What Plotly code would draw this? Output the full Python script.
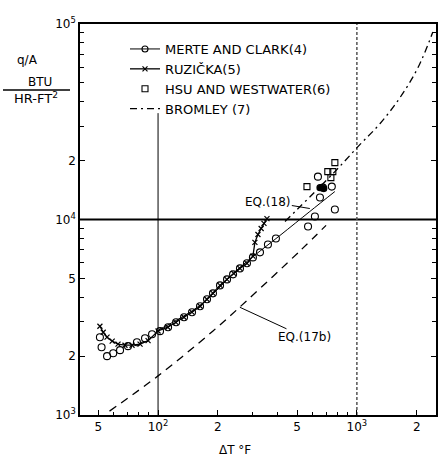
import math
import plotly.graph_objects as go

# ---------------- data ----------------
# Merte and Clark (open circles)
dt_mc = [51, 52, 55.4, 59.5, 64.4, 70.6, 78.3, 86, 93.3, 102.3, 112.3, 123.2, 135.1, 148.2,
         162.6, 176.3, 188.9, 205, 222.3, 238.4, 258.2, 280, 300, 325.6, 357, 391.6,
         568, 615, 652, 675, 748, 775, 637]
q_mc = [2500, 2220, 2000, 2070, 2146, 2250, 2357, 2470, 2587, 2685, 2812, 2979, 3162, 3356,
        3600, 3908, 4190, 4603, 4940, 5240, 5623, 5970, 6400, 6790, 7450, 8000,
        9210, 10360, 12950, 14550, 14730, 11250, 16560]

# Ruzicka (crosses)
dt_rz = [51, 53, 55.4, 58.8, 62.9, 68.2, 74, 81.2, 89.1, 100, 112, 123, 135, 148, 163, 176,
         189, 205, 222, 240, 258, 280, 300, 307, 318, 330, 341, 353]
q_rz = [2845, 2650, 2500, 2388, 2303, 2275, 2275, 2303, 2400, 2690, 2812, 2979, 3162, 3356,
        3600, 3908, 4190, 4603, 4940, 5300, 5623, 5970, 6500, 7640, 8380, 8990, 9550, 10100]

# Hsu and Westwater (open squares, filled dots)
dt_hw = [561, 714, 757, 740, 775, 652, 682]
q_hw = [14730, 17570, 17570, 16370, 19540, 14550, 14390]
sym_hw = ["square-open"] * 5 + ["circle"] * 2

# Bromley (7), dash-dot
dt_br = [435, 775, 1035, 1306, 1644, 2027, 2410]
q_br = [9770, 17570, 24150, 30900, 41880, 59700, 91000]

# EQ.(18), solid thin line
dt_18 = [102.3, 162.6, 258.2, 410, 580, 775]
q_18 = [2748, 3640, 5690, 8280, 10990, 13900]

# EQ.(17b), dashed line
dt_17b = [57, 100, 189, 283, 518, 700]
q_17b = [1047, 1585, 2692, 3890, 6918, 9333]

# reference lines of the chart
x_lo, x_hi = 40.5, 2500
q_lo, q_hi = 1000, 100000
v1_x, v1_top = 100, 35000
v2_x = 1000
h_q = 10000

# ticks
x_tickvals = [50, 100, 200, 500, 1000, 2000]
x_ticktext = ["5", "10<sup>2</sup>", "2", "5", "10<sup>3</sup>", "2"]
x_minor = [50, 60, 70, 80, 90, 200, 300, 400, 500, 600, 700, 800, 900, 2000]
y_tickvals = [1000, 2000, 5000, 10000, 20000, 100000]
y_ticktext = ["10<sup>3</sup>", "2", "5", "10<sup>4</sup>", "2", "10<sup>5</sup>"]
y_minor = [2000, 3000, 4000, 5000, 6000, 7000, 8000, 9000,
           20000, 30000, 40000, 50000, 60000, 70000, 80000, 90000]

FONT = "DejaVu Sans"
L, R, T, B = 80, 3, 24, 48
W, H = 439, 463


def px(xp):
    return (xp - L) / (W - L - R)


def py(yp):
    return 1 - (yp - T) / (H - T - B)


fig = go.Figure()

# reference lines
fig.add_trace(go.Scatter(x=[x_lo, x_hi], y=[h_q, h_q], mode="lines",
                         line=dict(color="black", width=2), showlegend=False, hoverinfo="skip"))
fig.add_trace(go.Scatter(x=[v1_x, v1_x], y=[q_lo, v1_top], mode="lines",
                         line=dict(color="black", width=1), showlegend=False, hoverinfo="skip"))
fig.add_trace(go.Scatter(x=[v2_x, v2_x], y=[q_lo, q_hi], mode="lines",
                         line=dict(color="#555555", width=1.5, dash="3px,2px"),
                         showlegend=False, hoverinfo="skip"))

# curves
fig.add_trace(go.Scatter(x=dt_17b, y=q_17b, mode="lines", line=dict(color="black", width=1.3, dash="8px,6px"),
                         line_shape="spline", showlegend=False))
fig.add_trace(go.Scatter(x=dt_18, y=q_18, mode="lines", line=dict(color="black", width=1),
                         line_shape="spline", showlegend=False))
fig.add_trace(go.Scatter(x=dt_br, y=q_br, mode="lines", line=dict(color="black", width=1.3, dash="7px,4px,2px,4px"),
                         line_shape="spline", name="BROMLEY (7)", legendrank=4))

# data
fig.add_trace(go.Scatter(x=dt_rz, y=q_rz, mode="lines+markers", line=dict(color="black", width=1.3),
                         marker=dict(symbol="x-thin", size=5, line=dict(color="black", width=1.2)),
                         name="RUZIČKA(5)", legendrank=2))
fig.add_trace(go.Scatter(x=dt_mc, y=q_mc, mode="markers",
                         marker=dict(symbol="circle-open", size=7, color="black", line=dict(width=1.1)),
                         showlegend=False))
fig.add_trace(go.Scatter(x=[None], y=[None], mode="lines+markers", line=dict(color="black", width=1),
                         marker=dict(symbol="circle-open", size=6, color="black", line=dict(width=1.1)),
                         name="MERTE AND CLARK(4)", legendrank=1))
fig.add_trace(go.Scatter(x=dt_hw, y=q_hw, mode="markers",
                         marker=dict(symbol=sym_hw, size=6, color="black", line=dict(width=1.1, color="black")),
                         name="HSU AND WESTWATER(6)", legendrank=3))

fig.update_layout(
    width=W, height=H, autosize=False,
    margin=dict(l=L, r=R, t=T, b=B, autoexpand=False),
    paper_bgcolor="white", plot_bgcolor="white",
    font=dict(family=FONT, size=12, color="black"),
    legend=dict(x=px(125), y=py(34), xanchor="left", yanchor="top", bgcolor="rgba(0,0,0,0)",
                font=dict(family=FONT, size=13), tracegroupgap=0, itemwidth=30),
)
fig.update_xaxes(type="log", range=[math.log10(x_lo), math.log10(x_hi)], automargin=False,
                 showgrid=False, zeroline=False, showline=True, linecolor="black", linewidth=2,
                 mirror=True, ticks="inside", ticklen=5, tickcolor="black",
                 tickmode="array", tickvals=x_tickvals, ticktext=x_ticktext,
                 minor=dict(ticks="inside", ticklen=3, tickcolor="black", tickvals=x_minor, showgrid=False),
                 tickfont=dict(size=12))
fig.update_yaxes(type="log", range=[math.log10(q_lo), math.log10(q_hi)], automargin=False,
                 showgrid=False, zeroline=False, showline=True, linecolor="black", linewidth=1.5,
                 mirror="ticks", ticks="inside", ticklen=5, tickcolor="black",
                 tickmode="array", tickvals=y_tickvals, ticktext=y_ticktext,
                 minor=dict(ticks="inside", ticklen=4, tickcolor="black", tickvals=y_minor, showgrid=False),
                 tickfont=dict(size=12))

# equation labels
fig.add_annotation(x=math.log10(258), y=math.log10(3556), xref="x", yref="y",
                   text="EQ.(17b)", showarrow=True, arrowhead=0, arrowwidth=1, arrowcolor="black",
                   ax=65, ay=30, font=dict(size=12))
fig.add_annotation(x=math.log10(580), y=math.log10(11380), xref="x", yref="y",
                   text="EQ.(18)", showarrow=True, arrowhead=0, arrowwidth=1, arrowcolor="black",
                   ax=-42, ay=-7, font=dict(size=12))

# axis titles
def title(xp, yp, text, size):
    fig.add_annotation(x=px(xp), y=py(yp), xref="paper", yref="paper", text=text, showarrow=False,
                       xanchor="center", yanchor="middle", font=dict(size=size))


title(235, 450, "ΔT °F", 12)
title(27, 60, "q/A", 12)
title(40, 82, "BTU", 12)
title(36, 98, "HR-FT<sup>2</sup>", 13)
fig.add_shape(type="line", xref="paper", yref="paper", x0=px(3), x1=px(70), y0=py(90), y1=py(90),
              line=dict(color="black", width=1.5))

fig.write_html("out.html", config={"displayModeBar": False},
               post_script="document.body.style.margin='0';")
